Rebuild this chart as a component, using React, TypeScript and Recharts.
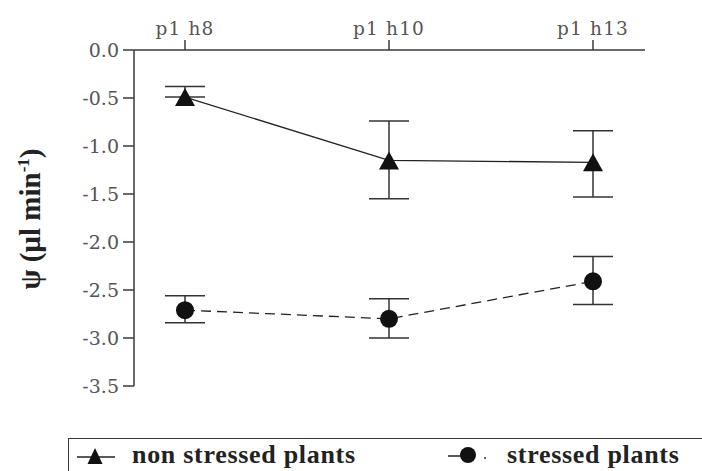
import { LineChart, Line, XAxis, YAxis, ErrorBar, Label } from 'recharts'

const categories = ['p1 h8', 'p1 h10', 'p1 h13']
const nonStressed = [-0.49, -1.15, -1.17]
const nonStressedErrLow = [0, 0.4, 0.36]
const nonStressedErrHigh = [0.11, 0.41, 0.33]
const stressed = [-2.71, -2.8, -2.41]
const stressedErrLow = [0.13, 0.2, 0.24]
const stressedErrHigh = [0.15, 0.21, 0.26]
const yTicks = [0, -0.5, -1, -1.5, -2, -2.5, -3, -3.5]
const seriesNames = ['non stressed plants', 'stressed plants']

const data = categories.map((c, i) => ({
  name: c,
  ns: nonStressed[i],
  nsErr: [nonStressedErrLow[i], nonStressedErrHigh[i]],
  st: stressed[i],
  stErr: [stressedErrLow[i], stressedErrHigh[i]],
}))

const axisColor = '#3a3a3a'
const tickStyle = { fontSize: 19, fontFamily: "'DejaVu Serif', serif", fill: '#555' }
const legendText = { fontFamily: 'Liberation Serif', fontWeight: 700, fontSize: 26, letterSpacing: '0.7px', color: '#222' }

// eslint-disable-next-line @typescript-eslint/no-explicit-any
const triangleDot = (p: any) => {
  const { cx, cy, index } = p
  if (cx == null || cy == null) return <g key={index} />
  return <polygon key={index} points={`${cx},${cy - 9} ${cx + 10},${cy + 9} ${cx - 10},${cy + 9}`} fill="#111" />
}

// eslint-disable-next-line @typescript-eslint/no-explicit-any
const circleDot = (p: any) => {
  const { cx, cy, index } = p
  if (cx == null || cy == null) return <g key={index} />
  return <circle key={index} cx={cx} cy={cy} r={9} fill="#111" />
}

// eslint-disable-next-line @typescript-eslint/no-explicit-any
const yLabel = (props: any) => {
  const vb = props.viewBox || {}
  const cy = (vb.y ?? 50) + (vb.height ?? 336) / 2 + 1
  const x = 40
  return (
    <text x={x} y={cy} transform={`rotate(-90, ${x}, ${cy})`} textAnchor="middle"
      style={{ fontFamily: 'Liberation Serif', fontWeight: 700, fontSize: 29, fill: '#222' }}>
      <tspan>ψ (µl min</tspan>
      <tspan fontSize={17} dy={-11}>-1</tspan>
      <tspan dy={11}>)</tspan>
    </text>
  )
}

export default function App() {
  return (
    <div style={{ position: 'absolute', left: 0, top: 0, width: 702, height: 471, overflow: 'hidden', background: '#fff' }}>
      <LineChart width={702} height={471} data={data} margin={{ top: 0, right: 57, bottom: 85, left: 0 }}>
        <XAxis dataKey="name" orientation="top" height={50} padding={{ left: 51, right: 52 }}
          tick={{ ...tickStyle, fontSize: 18.5, letterSpacing: 1.2 }} tickSize={10} tickMargin={5}
          axisLine={{ stroke: axisColor, strokeWidth: 1.5 }} tickLine={{ stroke: axisColor, strokeWidth: 1.5 }} />
        <YAxis type="number" domain={[-3.5, 0]} ticks={yTicks} width={134} interval={0}
          tickFormatter={v => Number(v).toFixed(1)} tick={tickStyle} tickSize={11} tickMargin={4}
          axisLine={{ stroke: axisColor, strokeWidth: 1.5 }} tickLine={{ stroke: axisColor, strokeWidth: 1.5 }}>
          <Label content={yLabel} />
        </YAxis>
        <Line dataKey="ns" name={seriesNames[0]} stroke="#222" strokeWidth={1.3} dot={triangleDot}
          activeDot={false} isAnimationActive={false}>
          <ErrorBar dataKey="nsErr" width={20} stroke="#333" strokeWidth={1.5} direction="y" />
        </Line>
        <Line dataKey="st" name={seriesNames[1]} stroke="#222" strokeWidth={1.3} strokeDasharray="10 6"
          dot={circleDot} activeDot={false} isAnimationActive={false}>
          <ErrorBar dataKey="stErr" width={20} stroke="#333" strokeWidth={1.5} direction="y" />
        </Line>
      </LineChart>
      <div style={{ position: 'absolute', left: 68, top: 438, width: 700, height: 60, border: `1.5px solid ${axisColor}` }} />
      <svg width={702} height={40} style={{ position: 'absolute', left: 0, top: 437 }}>
        <line x1={77} x2={115} y1={20} y2={20} stroke="#222" strokeWidth={1.5} />
        <polygon points="95,11 102.5,27 87.5,27" fill="#111" />
        <line x1={448} x2={462} y1={19} y2={19} stroke="#222" strokeWidth={1.5} />
        <circle cx={468} cy={18} r={8} fill="#111" />
        <circle cx={485} cy={21} r={1} fill="#333" />
      </svg>
      <div style={{ ...legendText, position: 'absolute', left: 132, top: 440, whiteSpace: 'nowrap' }}>{seriesNames[0]}</div>
      <div style={{ ...legendText, position: 'absolute', left: 507, top: 440, whiteSpace: 'nowrap' }}>{seriesNames[1]}</div>
    </div>
  )
}
